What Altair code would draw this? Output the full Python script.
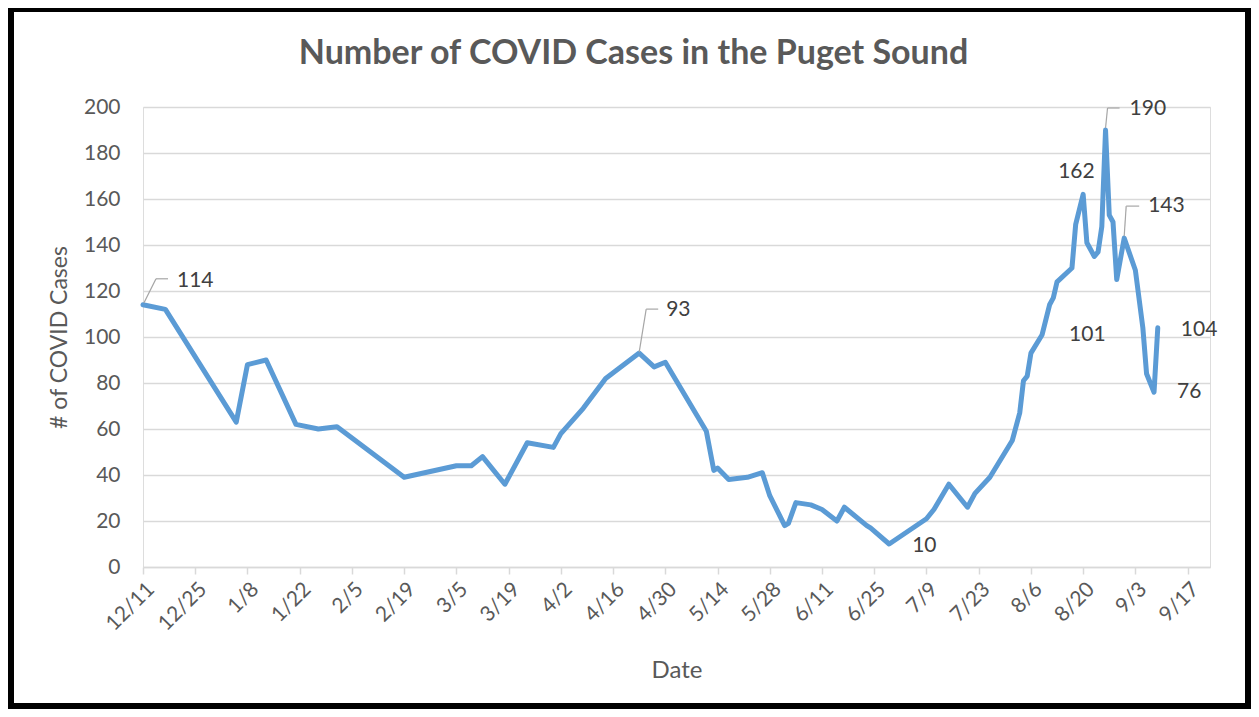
import json
import altair as alt
import pandas as pd

# ---------------- data ----------------
dates = [
    "2020/12/11", "2020/12/17", "2021/01/05", "2021/01/08", "2021/01/13", "2021/01/21",
    "2021/01/27", "2021/02/01", "2021/02/19", "2021/03/05", "2021/03/09", "2021/03/12",
    "2021/03/18", "2021/03/24", "2021/03/31", "2021/04/02", "2021/04/08", "2021/04/14",
    "2021/04/23", "2021/04/27", "2021/04/30", "2021/05/11", "2021/05/13", "2021/05/14",
    "2021/05/17", "2021/05/22", "2021/05/26", "2021/05/28", "2021/06/01", "2021/06/02",
    "2021/06/04", "2021/06/08", "2021/06/11", "2021/06/15", "2021/06/17", "2021/06/23",
    "2021/06/24", "2021/06/29", "2021/07/09", "2021/07/11", "2021/07/15", "2021/07/20",
    "2021/07/22", "2021/07/26", "2021/08/01", "2021/08/03", "2021/08/04", "2021/08/05",
    "2021/08/06", "2021/08/09", "2021/08/11", "2021/08/12", "2021/08/13", "2021/08/17",
    "2021/08/18", "2021/08/20", "2021/08/21", "2021/08/23", "2021/08/24", "2021/08/25",
    "2021/08/26", "2021/08/27", "2021/08/28", "2021/08/29", "2021/08/31", "2021/09/03",
    "2021/09/05", "2021/09/06", "2021/09/08", "2021/09/09",
]
cases = [
    114, 112, 63, 88, 90, 62,
    60, 61, 39, 44, 44, 48,
    36, 54, 52, 58, 69, 82,
    93, 87, 89, 59, 42, 43,
    38, 39, 41, 31, 18, 19,
    28, 27, 25, 20, 26, 18,
    17, 10, 21, 25, 36, 26,
    32, 39, 55, 67, 81, 83,
    93, 101, 114, 117, 124, 130,
    149, 162, 141, 135, 137, 148,
    190, 153, 150, 125, 143, 129,
    104, 84, 76, 104,
]

label_dates = ["2020/12/11", "2021/04/23", "2021/06/29", "2021/08/09", "2021/08/20",
               "2021/08/26", "2021/08/31", "2021/09/08", "2021/09/09"]
label_values = [114, 93, 10, 101, 162, 190, 143, 76, 104]

major_tick_labels = ["12/11", "12/25", "1/8", "1/22", "2/5", "2/19", "3/5", "3/19", "4/2",
                     "4/16", "4/30", "5/14", "5/28", "6/11", "6/25", "7/9", "7/23", "8/6",
                     "8/20", "9/3", "9/17"]
y_ticks = [0, 20, 40, 60, 80, 100, 120, 140, 160, 180, 200]

chart_title = "Number of COVID Cases in the Puget Sound"

# ---------------- layout / style ----------------
FONT = "Lato"
TXT = "#595959"
GRID = "#d9d9d9"
LINE = "#5b9bd5"

PAD_L, PAD_T, PAD_R, PAD_B = 135, 99, 41, 142
W, H = 1067, 460

# label placement (pixel offsets from the data point): dx, dy, leader polyline or None
label_layout = {
    114: (34, -24, [(1, -2), (13, -26), (25, -26)]),
    93: (27, -43, [(0, -1), (7, -44), (19, -44)]),
    10: (23, 2, None),
    101: (27, 0, None),
    162: (-25, -22, None),
    190: (24, -21, [(0, -2), (2, -22), (14, -22)]),
    143: (24, -32, [(0, -2), (2, -32), (15, -32)]),
    76: (23, 0, None),
    104: (23, 2, None),
}

df = pd.DataFrame({"date": dates, "cases": cases})

week_ticks = pd.date_range("2020-12-11", "2021-09-17", freq="7D")
tick_values = [alt.DateTime(year=int(d.year), month=int(d.month), date=int(d.day)) for d in week_ticks]
fmt = "timeFormat(datum.value, '%-m/%-d')"
label_expr = f"indexof({json.dumps(major_tick_labels)}, {fmt}) >= 0 ? {fmt} : ''"

x_scale = alt.Scale(domain=[alt.DateTime(year=2020, month=12, date=11),
                            alt.DateTime(year=2021, month=9, date=23)])
y_scale = alt.Scale(domain=[0, 200])

x_enc = alt.X("date:T", scale=x_scale, title="Date",
              axis=alt.Axis(values=tick_values, labelExpr=label_expr, labelAngle=-45,
                            labelOverlap=False, labelBound=False,
                            grid=False, domainColor=GRID, domainWidth=1.5,
                            tickColor=GRID, tickWidth=1.5, tickSize=7,
                            labelFont=FONT, labelFontSize=21, labelColor=TXT, labelPadding=4,
                            titleFont=FONT, titleFontSize=24, titleColor=TXT,
                            titleFontWeight="normal", titleY=91, titleBaseline="top"))
y_enc = alt.Y("cases:Q", scale=y_scale, title="# of COVID Cases",
              axis=alt.Axis(values=y_ticks, domain=False, ticks=False,
                            gridColor=GRID, gridWidth=1.5,
                            labelFont=FONT, labelFontSize=21, labelColor=TXT, labelPadding=23,
                            titleFont=FONT, titleFontSize=23, titleColor=TXT,
                            titleFontWeight="normal", titleX=-72, titleY=230,
                            titleAngle=-90, titleBaseline="bottom", titleAlign="center"))

line = alt.Chart(df).mark_line(color=LINE, strokeWidth=5, strokeJoin="round",
                               strokeCap="round").encode(x=x_enc, y=y_enc)

layers = [line]
for d, v in zip(label_dates, label_values):
    dx, dy, leader = label_layout[v]
    one = alt.Data(values=[{"date": d, "cases": v, "label": str(v)}])
    base = alt.Chart(one).encode(x=alt.X("date:T", scale=x_scale),
                                 y=alt.Y("cases:Q", scale=y_scale))
    if leader:
        for (ax, ay), (bx, by) in zip(leader[:-1], leader[1:]):
            layers.append(base.mark_rule(color="#a6a6a6", strokeWidth=1.2,
                                         xOffset=ax, yOffset=ay, x2Offset=bx, y2Offset=by)
                          .encode(x2="date:T", y2="cases:Q"))
    layers.append(base.mark_text(font=FONT, fontSize=21, color="#404040", align="left",
                                 baseline="middle", dx=dx, dy=dy).encode(text="label:N"))

deco = alt.Chart(alt.Data(values=[{"b": 1}]))
border = deco.mark_rect(filled=False, stroke="black", strokeWidth=6).encode(
    x=alt.value(-PAD_L + 3), x2=alt.value(W + PAD_R - 3),
    y=alt.value(-PAD_T + 1), y2=alt.value(H + PAD_B - 3))
title = deco.mark_text(text=chart_title, font=FONT, fontSize=34, fontWeight="bold",
                       color=TXT, align="center", baseline="middle").encode(
    x=alt.value(W / 2 - 43), y=alt.value(-53))
layers += [border, title]

chart = alt.layer(*layers).properties(
    width=W, height=H,
    autosize=alt.AutoSizeParams(type="none"),
    padding={"left": PAD_L, "top": PAD_T, "right": PAD_R, "bottom": PAD_B},
).configure_view(stroke=None).configure(background="white")

chart.save("out.html", embed_options={"renderer": "svg", "actions": False})
